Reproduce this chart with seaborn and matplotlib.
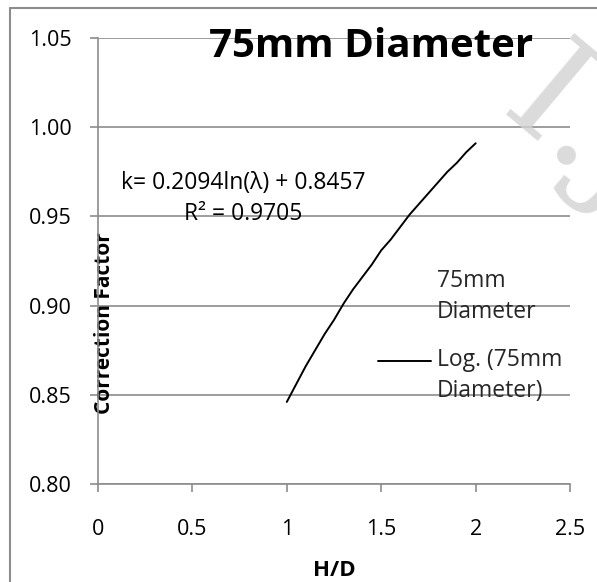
import matplotlib
matplotlib.use("Agg")
import matplotlib.pyplot as plt
import seaborn as sns
import pandas as pd
from matplotlib.lines import Line2D
from matplotlib.legend_handler import HandlerLine2D

# Values (log trendline of the 75 mm series)
hd = [1.0, 1.05, 1.1, 1.15, 1.2, 1.25, 1.3, 1.35, 1.4, 1.45, 1.5,
      1.55, 1.6, 1.65, 1.7, 1.75, 1.8, 1.85, 1.9, 1.95, 2.0]
k = [0.846, 0.856, 0.866, 0.875, 0.884, 0.892, 0.901, 0.909, 0.916, 0.923, 0.931,
     0.937, 0.944, 0.951, 0.957, 0.963, 0.969, 0.975, 0.980, 0.986, 0.991]
x_ticks = [0, 0.5, 1, 1.5, 2, 2.5]
x_tick_labels = ["0", "0.5", "1", "1.5", "2", "2.5"]
y_ticks = [0.80, 0.85, 0.90, 0.95, 1.00, 1.05]
y_tick_labels = ["0.80", "0.85", "0.90", "0.95", "1.00", "1.05"]
title = "75mm Diameter"
series_label = "75mm\nDiameter"
trend_label = "Log. (75mm\nDiameter)"
equation = "k= 0.2094ln(λ) + 0.8457"
r2_text = "R² = 0.9705"


class FirstLineHandler(HandlerLine2D):
    """Put the legend line level with the first line of a two-line label."""
    def create_artists(self, legend, orig_handle, xdescent, ydescent, width,
                       height, fontsize, trans):
        arts = super().create_artists(legend, orig_handle, xdescent, ydescent,
                                      width, height, fontsize, trans)
        for a in arts:
            if isinstance(a, Line2D):
                a.set_ydata([y + 0.68 * fontsize for y in a.get_ydata()])
        return arts


sns.set_theme(style="white")
plt.rcParams['font.family'] = ['Open Sans', 'DejaVu Sans']

fig = plt.figure(figsize=(5.97, 5.82), dpi=100)
ax = fig.add_axes([0.164, 0.1684, 0.791, 0.7663])

df = pd.DataFrame({"H/D": hd, "k": k})
sns.lineplot(data=df, x="H/D", y="k", ax=ax, color="black", linewidth=1.4, legend=False)

ax.set_xlim(0, 2.5)
ax.set_ylim(0.80, 1.05)
ax.set_xticks(x_ticks)
ax.set_xticklabels(x_tick_labels)
ax.set_yticks(y_ticks)
ax.set_yticklabels(y_tick_labels)

grid_c = "#8c8c8c"
ax.grid(axis="y", color=grid_c, linewidth=1.2)
ax.grid(axis="x", visible=False)
for s in ["top", "right"]:
    ax.spines[s].set_visible(False)
for s in ["left", "bottom"]:
    ax.spines[s].set_color(grid_c)
    ax.spines[s].set_linewidth(1.2)
ax.tick_params(axis="both", direction="out", length=6, width=1.2, color=grid_c,
               labelsize=15.5, labelcolor="black", left=True, bottom=True)
ax.tick_params(axis="y", pad=13)
ax.tick_params(axis="x", pad=19)

ax.set_xlabel("H/D", fontsize=16, fontweight="bold", color="black")
ax.xaxis.set_label_coords(0.5, -0.17)
ax.set_ylabel("Correction Factor", fontsize=15, fontweight="bold", color="black")
ax.yaxis.set_label_coords(0.036, 0.361)

ax.text(0.578, 0.982, title, transform=ax.transAxes, ha="center", va="center",
        fontsize=29, fontweight="bold", color="black")
ax.text(0.307, 0.675, equation, transform=ax.transAxes, ha="center", va="center",
        fontsize=16.5, color="black")
ax.text(0.307, 0.605, r2_text, transform=ax.transAxes, ha="center", va="center",
        fontsize=16.5, color="black")

handles = [Line2D([], [], linewidth=0, color="none"),
           Line2D([], [], color="black", linewidth=1.4)]
leg = ax.legend(handles, [series_label, trend_label], loc="upper left",
                bbox_to_anchor=(0.593, 0.482), frameon=False, fontsize=16.5,
                handlelength=2.3, handletextpad=0.26, labelspacing=1.05,
                borderpad=0, borderaxespad=0,
                handler_map={Line2D: FirstLineHandler()})
for t in leg.get_texts():
    t.set_linespacing(1.4)

# watermark
fig.text(497 / 597, 1 - 114 / 582, "I.J.", fontsize=105, family="DejaVu Serif",
         color="#d2d2d2", rotation=-40, rotation_mode="anchor",
         ha="left", va="baseline", alpha=0.8, zorder=0)

# chart-area border (top and left visible)
fig.add_artist(Line2D([10/597, 10/597], [0, 1 - 8/582], transform=fig.transFigure,
                      color="#8c8c8c", linewidth=1.5))
fig.add_artist(Line2D([10/597, 1], [1 - 8/582, 1 - 8/582], transform=fig.transFigure,
                      color="#8c8c8c", linewidth=1.5))

fig.savefig("out.png", dpi=100)
